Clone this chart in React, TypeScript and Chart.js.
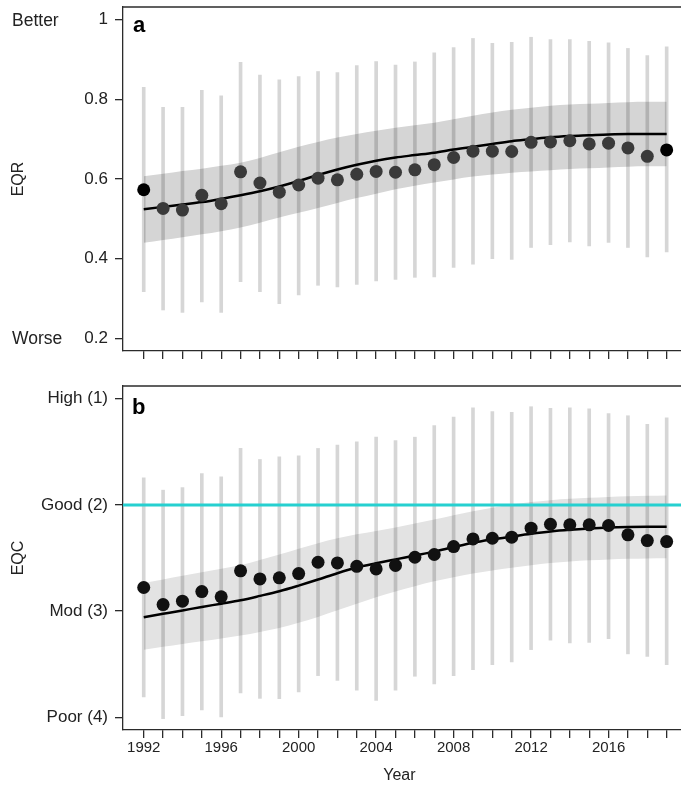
import React, { useEffect, useRef } from "react";
import { Chart, registerables } from "chart.js";

Chart.register(...registerables);

// ---------- data ----------
const years = [
  1992, 1993, 1994, 1995, 1996, 1997, 1998, 1999, 2000, 2001, 2002, 2003, 2004, 2005,
  2006, 2007, 2008, 2009, 2010, 2011, 2012, 2013, 2014, 2015, 2016, 2017, 2018, 2019,
];
const yearLabels = [1992, 1996, 2000, 2004, 2008, 2012, 2016];

// Panel a: EQR
const eqrMean = [
  0.573, 0.526, 0.522, 0.559, 0.538, 0.618, 0.59, 0.567, 0.585, 0.602, 0.598, 0.612, 0.619, 0.617,
  0.623, 0.636, 0.654, 0.67, 0.67, 0.669, 0.692, 0.693, 0.696, 0.688, 0.69, 0.678, 0.657, 0.673,
];
const eqrBarLow = [
  0.317, 0.271, 0.265, 0.291, 0.265, 0.342, 0.317, 0.287, 0.309, 0.333, 0.329, 0.335, 0.344, 0.348,
  0.353, 0.354, 0.378, 0.386, 0.4, 0.398, 0.428, 0.435, 0.442, 0.432, 0.441, 0.428, 0.404, 0.417,
];
const eqrBarHigh = [
  0.83, 0.78, 0.78, 0.823, 0.809, 0.893, 0.861, 0.849, 0.857, 0.87, 0.867, 0.885, 0.895, 0.886,
  0.894, 0.917, 0.93, 0.953, 0.941, 0.943, 0.956, 0.95, 0.95, 0.946, 0.942, 0.928, 0.91, 0.932,
];
const eqrTrend = [
  0.524, 0.53, 0.536, 0.542, 0.55, 0.559, 0.569, 0.581, 0.595, 0.61, 0.624, 0.636, 0.646, 0.654,
  0.66, 0.666, 0.674, 0.681, 0.688, 0.695, 0.7, 0.705, 0.708, 0.71, 0.712, 0.713, 0.713, 0.713,
];
const eqrBandHigh = [
  0.607, 0.613, 0.62, 0.626, 0.633, 0.641, 0.653, 0.667, 0.681, 0.693, 0.704, 0.713, 0.721, 0.729,
  0.735, 0.741, 0.75, 0.759, 0.767, 0.774, 0.779, 0.784, 0.787, 0.789, 0.791, 0.793, 0.794, 0.794,
];
const eqrBandLow = [
  0.44, 0.447, 0.454, 0.461, 0.469, 0.478, 0.49, 0.503, 0.515, 0.527, 0.54, 0.552, 0.563, 0.574,
  0.583, 0.591, 0.599, 0.606, 0.611, 0.616, 0.619, 0.622, 0.625, 0.627, 0.629, 0.631, 0.632, 0.632,
];
const eqrTicks = [0.2, 0.4, 0.6, 0.8, 1];
const eqrTickLabels = ["0.2", "0.4", "0.6", "0.8", "1"];

// Panel b: EQC (1 = High ... 4 = Poor)
const eqcMean = [
  2.778, 2.939, 2.907, 2.816, 2.866, 2.621, 2.697, 2.687, 2.647, 2.54, 2.546, 2.578, 2.603, 2.57,
  2.493, 2.467, 2.392, 2.32, 2.314, 2.304, 2.219, 2.182, 2.188, 2.188, 2.194, 2.282, 2.336, 2.345,
];
const eqcBarTop = [
  1.745, 1.861, 1.836, 1.704, 1.735, 1.468, 1.572, 1.547, 1.537, 1.468, 1.437, 1.405, 1.362, 1.393,
  1.362, 1.252, 1.173, 1.085, 1.12, 1.129, 1.075, 1.091, 1.085, 1.094, 1.139, 1.16, 1.242, 1.179,
];
const eqcBarBottom = [
  3.809, 4.013, 3.985, 3.932, 3.997, 3.771, 3.822, 3.825, 3.762, 3.608, 3.652, 3.746, 3.841, 3.746,
  3.614, 3.686, 3.608, 3.551, 3.504, 3.479, 3.363, 3.275, 3.3, 3.294, 3.259, 3.403, 3.426, 3.504,
];
const eqcTrend = [
  3.058, 3.026, 2.994, 2.961, 2.93, 2.898, 2.857, 2.813, 2.76, 2.703, 2.643, 2.59, 2.55, 2.513,
  2.477, 2.44, 2.397, 2.356, 2.325, 2.298, 2.272, 2.25, 2.234, 2.222, 2.213, 2.208, 2.206, 2.206,
];
const eqcBandTop = [
  2.735, 2.702, 2.668, 2.634, 2.601, 2.568, 2.52, 2.467, 2.412, 2.36, 2.315, 2.277, 2.245, 2.213,
  2.175, 2.138, 2.098, 2.059, 2.026, 1.996, 1.973, 1.955, 1.943, 1.933, 1.925, 1.918, 1.914, 1.911,
];
const eqcBandBottom = [
  3.363, 3.337, 3.31, 3.284, 3.258, 3.231, 3.196, 3.159, 3.11, 3.055, 2.993, 2.93, 2.87, 2.815,
  2.765, 2.719, 2.682, 2.647, 2.618, 2.593, 2.568, 2.546, 2.532, 2.521, 2.513, 2.508, 2.504, 2.502,
];
const eqcTicks = [1, 2, 3, 4];
const eqcTickLabels = ["High (1)", "Good (2)", "Mod (3)", "Poor (4)"];
const goodThreshold = 2;

// ---------- layout / style ----------
const FONT = "'Liberation Sans', Arial, Helvetica, sans-serif";
const X_MIN = 1990.93;
const X_MAX = 2019.74;
const AXIS_COLOR = "#2b2b2b";

type PanelSpec = {
  mean: number[];
  barA: number[];
  barB: number[];
  trend: number[];
  bandA: number[];
  bandB: number[];
  ticks: number[];
  tickLabels: string[];
  yMin: number;
  yMax: number;
  reverse: boolean;
  bandColor: string;
  pointColors: string[];
  threshold: number | null;
  padTop: number;
  xAxisHeight: number;
  showXLabels: boolean;
  draw: (chart: any) => void;
};

function makeChart(canvas: HTMLCanvasElement, p: PanelSpec) {
  const toXY = (arr: number[]) => years.map((x, i) => ({ x, y: arr[i] }));
  const datasets: any[] = [
    {
      type: "line",
      data: toXY(p.bandA),
      fill: "+1",
      backgroundColor: p.bandColor,
      borderWidth: 0,
      pointRadius: 0,
      cubicInterpolationMode: "monotone",
      order: 6,
    },
    {
      type: "line",
      data: toXY(p.bandB),
      fill: false,
      borderWidth: 0,
      pointRadius: 0,
      cubicInterpolationMode: "monotone",
      order: 7,
    },
    {
      type: "bar",
      data: years.map((x, i) => ({ x, y: [p.barA[i], p.barB[i]] })),
      backgroundColor: "rgba(0,0,0,0.16)",
      borderWidth: 0,
      barThickness: 3,
      grouped: false,
      order: 5,
    },
  ];
  if (p.threshold !== null) {
    datasets.push({
      type: "line",
      data: [
        { x: X_MIN, y: p.threshold },
        { x: X_MAX, y: p.threshold },
      ],
      borderColor: "#26d0d0",
      borderWidth: 3,
      pointRadius: 0,
      order: 4,
    });
  }
  datasets.push(
    {
      type: "line",
      data: toXY(p.trend),
      borderColor: "#000",
      borderWidth: 2.5,
      pointRadius: 0,
      cubicInterpolationMode: "monotone",
      fill: false,
      order: 2,
    },
    {
      type: "line",
      data: toXY(p.mean),
      showLine: false,
      pointRadius: 6.5,
      pointBackgroundColor: p.pointColors,
      pointBorderWidth: 0,
      order: 1,
    }
  );

  const annotate = {
    id: "annotate",
    afterDraw(chart: any) {
      const { ctx, chartArea } = chart;
      ctx.save();
      ctx.strokeStyle = AXIS_COLOR;
      ctx.lineWidth = 1.3;
      ctx.beginPath();
      ctx.moveTo(chartArea.left, chartArea.top);
      ctx.lineTo(chartArea.right + 2, chartArea.top);
      ctx.stroke();
      ctx.restore();
      p.draw(chart);
    },
  };

  return new Chart(canvas, {
    type: "line",
    data: { datasets },
    options: {
      animation: false,
      responsive: false,
      events: [],
      layout: { autoPadding: false, padding: { top: p.padTop, left: 0, right: 0, bottom: 0 } },
      plugins: { legend: { display: false }, tooltip: { enabled: false } },
      scales: {
        x: {
          type: "linear",
          min: X_MIN,
          max: X_MAX,
          offset: false,
          grid: {
            display: true,
            drawOnChartArea: false,
            drawTicks: true,
            tickLength: 8,
            color: AXIS_COLOR,
            lineWidth: 1.3,
            offset: false,
          },
          border: { display: true, color: AXIS_COLOR, width: 1.3 },
          ticks: {
            display: p.showXLabels,
            autoSkip: false,
            maxRotation: 0,
            minRotation: 0,
            padding: 1,
            color: "#222",
            font: { family: FONT, size: 15 },
            callback: (v: any) => (yearLabels.includes(Number(v)) ? String(v) : ""),
          },
          afterBuildTicks: (s: any) => {
            s.ticks = years.map((v) => ({ value: v }));
          },
          afterFit: (s: any) => {
            s.height = p.xAxisHeight;
            s.paddingLeft = 0;
            s.paddingRight = 0;
          },
        },
        y: {
          type: "linear",
          min: p.yMin,
          max: p.yMax,
          reverse: p.reverse,
          grid: {
            display: true,
            drawOnChartArea: false,
            drawTicks: true,
            tickLength: 8,
            color: AXIS_COLOR,
            lineWidth: 1.3,
          },
          border: { display: true, color: AXIS_COLOR, width: 1.3 },
          ticks: {
            padding: 7,
            color: "#222",
            font: { family: FONT, size: 17 },
            callback: (v: any) => {
              const i = p.ticks.findIndex((t) => Math.abs(t - Number(v)) < 1e-6);
              return i >= 0 ? p.tickLabels[i] : "";
            },
          },
          afterBuildTicks: (s: any) => {
            s.ticks = p.ticks.map((v) => ({ value: v }));
          },
          afterFit: (s: any) => {
            s.width = 123;
            s.paddingTop = 0;
            s.paddingBottom = 0;
          },
        },
      },
    } as any,
    plugins: [annotate],
  });
}

function drawRotated(ctx: any, text: string, x: number, y: number, font: string) {
  ctx.save();
  ctx.translate(x, y);
  ctx.rotate(-Math.PI / 2);
  ctx.font = font;
  ctx.fillStyle = "#222";
  ctx.textAlign = "center";
  ctx.textBaseline = "middle";
  ctx.fillText(text, 0, 0);
  ctx.restore();
}

const panelA: PanelSpec = {
  mean: eqrMean,
  barA: eqrBarLow,
  barB: eqrBarHigh,
  trend: eqrTrend,
  bandA: eqrBandHigh,
  bandB: eqrBandLow,
  ticks: eqrTicks,
  tickLabels: eqrTickLabels,
  yMin: 0.168,
  yMax: 1.032,
  reverse: false,
  bandColor: "#d5d5d5",
  pointColors: years.map((_, i) => (i === 0 || i === years.length - 1 ? "#000" : "#3a3a3a")),
  threshold: null,
  padTop: 7,
  xAxisHeight: 19,
  showXLabels: false,
  draw: (chart: any) => {
    const { ctx, chartArea, scales } = chart;
    ctx.save();
    ctx.fillStyle = "#222";
    ctx.font = `17.5px ${FONT}`;
    ctx.textAlign = "left";
    ctx.textBaseline = "middle";
    ctx.fillText("Better", 12, scales.y.getPixelForValue(1) + 1);
    ctx.fillText("Worse", 12, scales.y.getPixelForValue(0.2) + 1);
    ctx.font = `bold 22px ${FONT}`;
    ctx.fillStyle = "#000";
    ctx.textBaseline = "alphabetic";
    ctx.fillText("a", chartArea.left + 10, chartArea.top + 25);
    ctx.restore();
    drawRotated(ctx, "EQR", 19, (chartArea.top + chartArea.bottom) / 2, `16px ${FONT}`);
  },
};

const panelB: PanelSpec = {
  mean: eqcMean,
  barA: eqcBarTop,
  barB: eqcBarBottom,
  trend: eqcTrend,
  bandA: eqcBandTop,
  bandB: eqcBandBottom,
  ticks: eqcTicks,
  tickLabels: eqcTickLabels,
  yMin: 0.88,
  yMax: 4.12,
  reverse: true,
  bandColor: "#e3e3e3",
  pointColors: years.map(() => "#111"),
  threshold: goodThreshold,
  padTop: 16,
  xAxisHeight: 57,
  showXLabels: true,
  draw: (chart: any) => {
    const { ctx, chartArea, scales } = chart;
    ctx.save();
    ctx.font = `bold 22px ${FONT}`;
    ctx.fillStyle = "#000";
    ctx.textAlign = "left";
    ctx.textBaseline = "alphabetic";
    ctx.fillText("b", chartArea.left + 9, chartArea.top + 28);
    ctx.font = `16px ${FONT}`;
    ctx.fillStyle = "#222";
    ctx.textAlign = "center";
    ctx.textBaseline = "middle";
    ctx.fillText("Year", scales.x.getPixelForValue(2005.2), chartArea.bottom + 46);
    ctx.restore();
    drawRotated(ctx, "EQC", 19, (chartArea.top + chartArea.bottom) / 2, `16px ${FONT}`);
  },
};

export default function App() {
  const refA = useRef<HTMLCanvasElement | null>(null);
  const refB = useRef<HTMLCanvasElement | null>(null);

  useEffect(() => {
    const a = refA.current ? makeChart(refA.current, panelA) : null;
    const b = refB.current ? makeChart(refB.current, panelB) : null;
    return () => {
      a?.destroy();
      b?.destroy();
    };
  }, []);

  return (
    <div
      style={{
        position: "absolute",
        left: 0,
        top: 0,
        width: 681,
        height: 787,
        background: "#fff",
        overflow: "hidden",
      }}
    >
      <canvas
        ref={refA}
        width={681}
        height={370}
        style={{ position: "absolute", left: 0, top: 0, width: 681, height: 370 }}
      />
      <canvas
        ref={refB}
        width={681}
        height={417}
        style={{ position: "absolute", left: 0, top: 370, width: 681, height: 417 }}
      />
    </div>
  );
}
